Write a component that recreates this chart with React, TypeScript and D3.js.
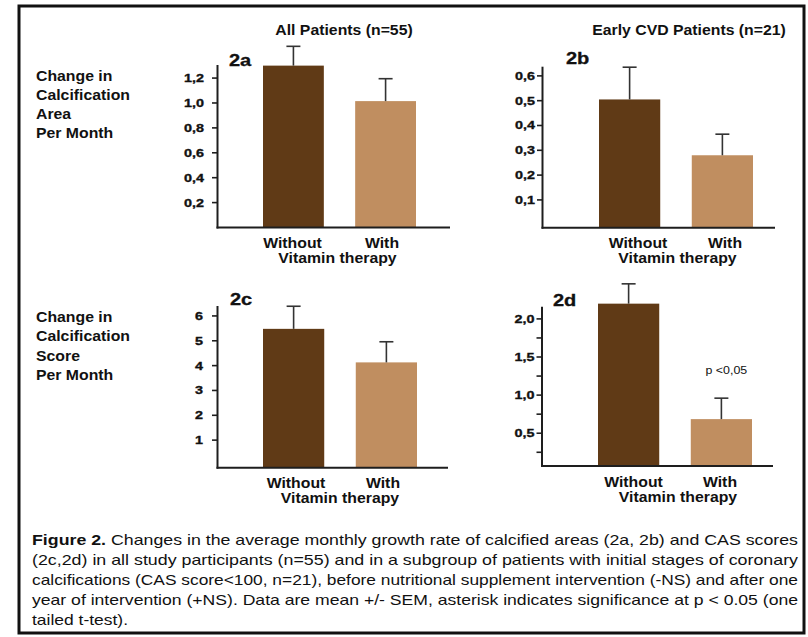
import React from "react";
import * as d3 from "d3";

const categories = ["Without", "With"];
const panelIds = ["2a", "2b", "2c", "2d"];
const groupTitles = ["All Patients (n=55)", "Early CVD Patients (n=21)"];
const yLabelArea = ["Change in", "Calcification", "Area", "Per Month"];
const yLabelScore = ["Change in", "Calcification", "Score", "Per Month"];

const meansA = [1.3, 1.015];
const semA = [0.155, 0.18];
const meansB = [0.505, 0.28];
const semB = [0.13, 0.085];
const meansC = [5.48, 4.13];
const semC = [0.91, 0.83];
const meansD = [2.2, 0.685];
const semD = [0.26, 0.275];

const ticksA = [0.2, 0.4, 0.6, 0.8, 1.0, 1.2];
const ticksB = [0.1, 0.2, 0.3, 0.4, 0.5, 0.6];
const ticksC = [1, 2, 3, 4, 5, 6];
const ticksD = [0.5, 1.0, 1.5, 2.0];
const minorD = [0.25, 0.75, 1.25, 1.75];
const ticksDigits = [1, 1, 0, 1];

const domainA = [0, 1.305];
const domainB = [-0.012, 0.637];
const domainC = [-0.11, 6.4];
const domainD = [0.07, 2.16];

const captionLines = [
  " Changes in the average monthly growth rate of calcified areas (2a, 2b) and CAS scores",
  "(2c,2d) in all study participants (n=55) and in a subgroup of patients with initial stages of coronary",
  "calcifications (CAS score<100, n=21), before nutritional supplement intervention (-NS) and after one",
  "year of intervention (+NS). Data are mean +/- SEM, asterisk indicates significance at p < 0.05 (one",
  "tailed t-test).",
];
const captionLead = "Figure 2.";
const sigLabel = "p <0,05";

const FONT = "'Liberation Sans', Arial, Helvetica, sans-serif";
const DARK = "#603a16";
const LIGHT = "#c08e60";
const AXIS = "#1e1e1e";

type Layout = {
  axisX: number;
  yRange: [number, number];
  bars: [number, number];
  xEnd: number;
  pad: number;
  letter: [number, number];
  catX: [number, number];
  catY: number;
  vitX: number;
};

const layouts: Layout[] = [
  { axisX: 217.5, yRange: [227.5, 65], bars: [263, 416], xEnd: 450, pad: 8, letter: [229, 66], catX: [292.5, 382], catY: 248, vitX: 337.5 },
  { axisX: 542.5, yRange: [227.7, 66.7], bars: [599, 753], xEnd: 775, pad: 2, letter: [566, 64], catX: [638, 725], catY: 248, vitX: 677.5 },
  { axisX: 217.5, yRange: [467.7, 306], bars: [263, 417], xEnd: 448, pad: 9, letter: [230, 305], catX: [296, 383], catY: 488, vitX: 340 },
  { axisX: 542, yRange: [466, 306.7], bars: [598, 752], xEnd: 773, pad: 2, letter: [553, 306], catX: [633.5, 720], catY: 487, vitX: 678 },
];

function T(props: {
  x: number; y: number; size: number; weight?: string | number; anchor?: string;
  sx?: number; children: React.ReactNode; fill?: string; thick?: number;
}) {
  const { x, y, size, weight = "bold", anchor = "start", sx = 1.13, children, fill = "#111", thick = 0 } = props;
  return (
    <text
      transform={`translate(${x},${y}) scale(${sx},1)`}
      fontFamily={FONT}
      fontSize={size}
      fontWeight={weight}
      textAnchor={anchor as any}
      fill={fill}
      stroke={thick ? fill : "none"}
      strokeWidth={thick}
    >
      {children}
    </text>
  );
}

function Panel(props: {
  idx: number; means: number[]; sem: number[]; ticks: number[]; minor?: number[];
  domain: number[]; digits: number; sig?: string;
}) {
  const { idx, means, sem, ticks, minor = [], domain, digits, sig } = props;
  const L = layouts[idx];
  const y = d3.scaleLinear().domain(domain).range(L.yRange);
  const x = d3.scaleBand().domain(categories).range(L.bars).paddingInner(0.34).paddingOuter(0);
  const base = y(domain[0]);
  const fmt = (v: number) => d3.format(`.${digits}f`)(v).replace(".", ",");
  const tickLen = 5.5;
  return (
    <g>
      {categories.map((c, i) => {
        const bx = x(c)!;
        const cx = bx + x.bandwidth() / 2;
        const top = y(means[i]);
        const et = y(means[i] + sem[i]);
        return (
          <g key={c}>
            <rect x={bx} y={top} width={x.bandwidth()} height={base - top} fill={i === 0 ? DARK : LIGHT} />
            <line x1={cx} x2={cx} y1={top} y2={et} stroke="#333" strokeWidth={1.6} />
            <line x1={cx - 7} x2={cx + 7} y1={et} y2={et} stroke="#333" strokeWidth={1.6} />
          </g>
        );
      })}
      <line x1={L.axisX} x2={L.axisX} y1={L.yRange[1]} y2={base + 1} stroke={AXIS} strokeWidth={2} />
      <line x1={L.axisX - 1} x2={L.xEnd} y1={base} y2={base} stroke={AXIS} strokeWidth={2} />
      {ticks.map((t) => (
        <g key={"t" + t}>
          <line x1={L.axisX - tickLen} x2={L.axisX} y1={y(t)} y2={y(t)} stroke={AXIS} strokeWidth={1.6} />
          <T x={L.axisX - tickLen - L.pad} y={y(t) + 4} size={11.5} anchor="end" sx={1.25} thick={0.35}>
            {fmt(t)}
          </T>
        </g>
      ))}
      {minor.map((t) => (
        <line key={"m" + t} x1={L.axisX - tickLen} x2={L.axisX} y1={y(t)} y2={y(t)} stroke={AXIS} strokeWidth={1.6} />
      ))}
      <T x={L.letter[0]} y={L.letter[1]} size={16} sx={1.25} thick={0.3}>{panelIds[idx]}</T>
      {categories.map((c, i) => (
        <T key={"c" + c} x={L.catX[i]} y={L.catY} size={14} anchor="middle">{c}</T>
      ))}
      <T x={L.vitX} y={L.catY + 15} size={14} anchor="middle">Vitamin therapy</T>
      {sig ? (
        <T x={x("With")! + x.bandwidth() / 2 + 5} y={y(means[1] + sem[1]) - 24} size={11} weight="normal" anchor="middle">
          {sig}
        </T>
      ) : null}
    </g>
  );
}

export default function App() {
  return (
    <svg
      width={808}
      height={637}
      style={{ position: "absolute", left: 0, top: 0, display: "block", background: "#fff" }}
    >
      <rect x={0} y={0} width={808} height={637} fill="#fff" />
      <rect x={19} y={6} width={785} height={627} fill="none" stroke="#111" strokeWidth={3} />

      <T x={344} y={35} size={14} anchor="middle">{groupTitles[0]}</T>
      <T x={689} y={35} size={14} anchor="middle">{groupTitles[1]}</T>

      {yLabelArea.map((s, i) => (
        <T key={"la" + i} x={36} y={81 + i * 19} size={14}>{s}</T>
      ))}
      {yLabelScore.map((s, i) => (
        <T key={"ls" + i} x={36} y={322 + i * 19.3} size={14}>{s}</T>
      ))}

      <Panel idx={0} means={meansA} sem={semA} ticks={ticksA} domain={domainA} digits={ticksDigits[0]} />
      <Panel idx={1} means={meansB} sem={semB} ticks={ticksB} domain={domainB} digits={ticksDigits[1]} />
      <Panel idx={2} means={meansC} sem={semC} ticks={ticksC} domain={domainC} digits={ticksDigits[2]} />
      <Panel idx={3} means={meansD} sem={semD} ticks={ticksD} minor={minorD} domain={domainD} digits={ticksDigits[3]} sig={sigLabel} />

      {captionLines.map((line, i) => {
        const last = i === captionLines.length - 1;
        return (
          <text
            key={"cap" + i}
            x={32}
            y={545 + i * 20}
            fontFamily={FONT}
            fontSize={15}
            fill="#111"
            textLength={last ? 96 : 766}
            lengthAdjust="spacingAndGlyphs"
          >
            {i === 0 ? <tspan fontWeight="bold">{captionLead}</tspan> : null}
            {line}
          </text>
        );
      })}
    </svg>
  );
}
